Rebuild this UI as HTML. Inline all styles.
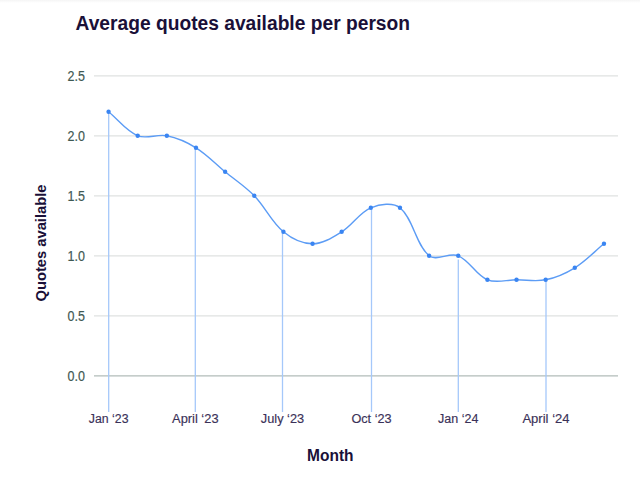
<!DOCTYPE html>
<html><head><meta charset="utf-8"><style>
html,body{margin:0;padding:0;background:#fff;width:640px;height:482px;overflow:hidden}
svg{display:block}
.title{font:bold 20px "Liberation Sans",sans-serif;fill:#1a1038}
.yt{font:14px "Liberation Sans",sans-serif;fill:#3f5953;stroke:#3f5953;stroke-width:0.2px}
.xt{font:12.5px "Liberation Sans",sans-serif;fill:#3a3158;stroke:#3a3158;stroke-width:0.15px}
.ax{font:bold 14px "Liberation Sans",sans-serif;fill:#1a1038}
</style></head><body>
<svg width="640" height="482" viewBox="0 0 640 482">
<rect x="0" y="0" width="640" height="482" fill="#fff"/>
<defs><linearGradient id="tg" x1="0" y1="0" x2="0" y2="1"><stop offset="0" stop-color="#f5f5f5"/><stop offset="1" stop-color="#ffffff"/></linearGradient></defs><rect x="0" y="0" width="640" height="3" fill="url(#tg)"/>
<text x="75.5" y="29.5" class="title" textLength="334.5" lengthAdjust="spacingAndGlyphs">Average quotes available per person</text>
<line x1="94" x2="618" y1="375.80" y2="375.80" stroke="#b2bcb9" stroke-width="1.3"/>
<text x="84.9" y="380.70" text-anchor="end" class="yt" textLength="17.4" lengthAdjust="spacingAndGlyphs">0.0</text>
<line x1="94" x2="618" y1="315.80" y2="315.80" stroke="#dfe2e1" stroke-width="1.3"/>
<text x="84.9" y="320.70" text-anchor="end" class="yt" textLength="17.4" lengthAdjust="spacingAndGlyphs">0.5</text>
<line x1="94" x2="618" y1="255.80" y2="255.80" stroke="#dfe2e1" stroke-width="1.3"/>
<text x="84.9" y="260.70" text-anchor="end" class="yt" textLength="17.4" lengthAdjust="spacingAndGlyphs">1.0</text>
<line x1="94" x2="618" y1="195.80" y2="195.80" stroke="#dfe2e1" stroke-width="1.3"/>
<text x="84.9" y="200.70" text-anchor="end" class="yt" textLength="17.4" lengthAdjust="spacingAndGlyphs">1.5</text>
<line x1="94" x2="618" y1="135.80" y2="135.80" stroke="#dfe2e1" stroke-width="1.3"/>
<text x="84.9" y="140.70" text-anchor="end" class="yt" textLength="17.4" lengthAdjust="spacingAndGlyphs">2.0</text>
<line x1="94" x2="618" y1="75.80" y2="75.80" stroke="#dfe2e1" stroke-width="1.3"/>
<text x="84.9" y="80.70" text-anchor="end" class="yt" textLength="17.4" lengthAdjust="spacingAndGlyphs">2.5</text>

<line x1="108.70" x2="108.70" y1="111.80" y2="412" stroke="#a5c8fa" stroke-width="1.3"/>
<text x="108.70" y="423.2" text-anchor="middle" class="xt" textLength="39.7" lengthAdjust="spacingAndGlyphs">Jan ‘23</text>
<line x1="195.30" x2="195.30" y1="147.80" y2="412" stroke="#a5c8fa" stroke-width="1.3"/>
<text x="195.30" y="423.2" text-anchor="middle" class="xt" textLength="46.5" lengthAdjust="spacingAndGlyphs">April ‘23</text>
<line x1="282.50" x2="282.50" y1="231.80" y2="412" stroke="#a5c8fa" stroke-width="1.3"/>
<text x="282.50" y="423.2" text-anchor="middle" class="xt" textLength="43.4" lengthAdjust="spacingAndGlyphs">July ‘23</text>
<line x1="371.50" x2="371.50" y1="207.80" y2="412" stroke="#a5c8fa" stroke-width="1.3"/>
<text x="371.50" y="423.2" text-anchor="middle" class="xt" textLength="40.2" lengthAdjust="spacingAndGlyphs">Oct ‘23</text>
<line x1="458.30" x2="458.30" y1="259.40" y2="412" stroke="#a5c8fa" stroke-width="1.3"/>
<text x="458.30" y="423.2" text-anchor="middle" class="xt" textLength="40.4" lengthAdjust="spacingAndGlyphs">Jan ‘24</text>
<line x1="546.00" x2="546.00" y1="279.80" y2="412" stroke="#a5c8fa" stroke-width="1.3"/>
<text x="546.00" y="423.2" text-anchor="middle" class="xt" textLength="47.2" lengthAdjust="spacingAndGlyphs">April ‘24</text>

<path d="M108.57,111.80 C118.77,120.20 126.20,131.06 137.71,135.80 C146.60,139.46 157.05,133.78 166.85,135.80 C177.45,137.98 186.71,142.07 195.99,147.80 C207.11,154.67 214.93,163.40 225.13,171.80 C235.33,180.20 245.11,186.37 254.27,195.80 C265.51,207.37 271.27,221.80 283.41,231.80 C291.67,238.60 302.35,243.80 312.55,243.80 C322.75,243.80 332.41,237.53 341.69,231.80 C352.81,224.93 359.32,212.54 370.83,207.80 C379.72,204.14 393.00,202.06 399.97,207.80 C413.40,218.86 415.68,244.74 429.11,255.80 C436.08,261.54 449.36,252.14 458.25,255.80 C469.76,260.54 475.88,275.06 487.39,279.80 C496.28,283.46 506.33,279.80 516.53,279.80 C526.73,279.80 535.87,281.82 545.67,279.80 C556.27,277.62 565.53,273.53 574.81,267.80 C585.93,260.93 593.75,252.20 603.95,243.80" fill="none" stroke="#5c9cf5" stroke-width="1.4"/>
<circle cx="108.57" cy="111.80" r="2.2" fill="#3a85f2"/>
<circle cx="137.71" cy="135.80" r="2.2" fill="#3a85f2"/>
<circle cx="166.85" cy="135.80" r="2.2" fill="#3a85f2"/>
<circle cx="195.99" cy="147.80" r="2.2" fill="#3a85f2"/>
<circle cx="225.13" cy="171.80" r="2.2" fill="#3a85f2"/>
<circle cx="254.27" cy="195.80" r="2.2" fill="#3a85f2"/>
<circle cx="283.41" cy="231.80" r="2.2" fill="#3a85f2"/>
<circle cx="312.55" cy="243.80" r="2.2" fill="#3a85f2"/>
<circle cx="341.69" cy="231.80" r="2.2" fill="#3a85f2"/>
<circle cx="370.83" cy="207.80" r="2.2" fill="#3a85f2"/>
<circle cx="399.97" cy="207.80" r="2.2" fill="#3a85f2"/>
<circle cx="429.11" cy="255.80" r="2.2" fill="#3a85f2"/>
<circle cx="458.25" cy="255.80" r="2.2" fill="#3a85f2"/>
<circle cx="487.39" cy="279.80" r="2.2" fill="#3a85f2"/>
<circle cx="516.53" cy="279.80" r="2.2" fill="#3a85f2"/>
<circle cx="545.67" cy="279.80" r="2.2" fill="#3a85f2"/>
<circle cx="574.81" cy="267.80" r="2.2" fill="#3a85f2"/>
<circle cx="603.95" cy="243.80" r="2.2" fill="#3a85f2"/>

<text transform="translate(45.6,243) rotate(-90)" text-anchor="middle" class="ax" style="font-size:15px" textLength="117" lengthAdjust="spacingAndGlyphs">Quotes available</text>
<text x="330.3" y="461" text-anchor="middle" class="ax" style="font-size:16.5px" textLength="46.5" lengthAdjust="spacingAndGlyphs">Month</text>
</svg>
</body></html>
